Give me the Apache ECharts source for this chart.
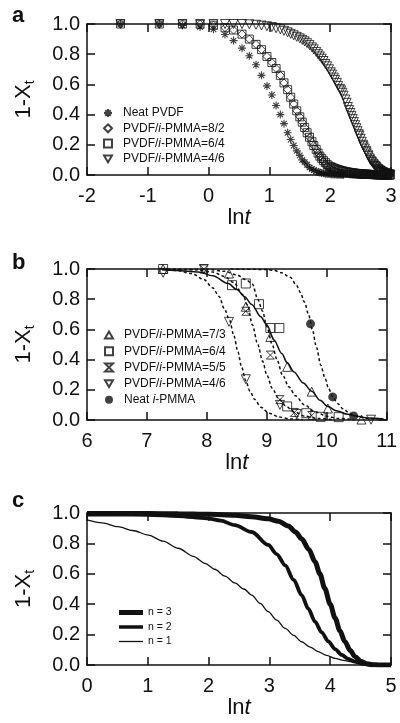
<!DOCTYPE html>
<html>
<head>
<meta charset="utf-8">
<script src="https://cdn.jsdelivr.net/npm/echarts@6/dist/echarts.min.js"></script>
<style>
  html, body { margin: 0; padding: 0; background: #fff; }
  #main { width: 400px; height: 723px; }
</style>
</head>
<body>
<div id="main"></div>
<script>
// ---- panel a: ln t grid shared by all four samples ----
var aLnT = [-1.45,-0.81,-0.43,-0.14,0.08,0.27,0.41,0.55,0.67,0.78,0.87,0.96,1.04,1.11,1.18,1.24,1.30,1.35,1.40,1.45,
  1.50,1.54,1.58,1.62,1.66,1.70,1.73,1.77,1.80,1.83,1.86,1.89,1.92,1.95,1.98,2.01,2.03,2.06,2.08,2.11,
  2.13,2.16,2.18,2.20,2.22,2.25,2.27,2.29,2.31,2.33,2.35,2.37,2.39,2.41,2.43,2.45,2.47,2.48,2.50,2.52,
  2.54,2.55,2.57,2.59,2.60,2.62,2.63,2.65,2.66,2.68,2.69,2.71,2.72,2.74,2.75,2.76,2.78,2.79,2.80,2.82,
  2.83,2.84,2.86,2.87,2.88,2.89,2.91,2.92,2.93,2.94,2.95,2.97,2.98,2.99];
var aNeatPVDF = [1.0,1.0,0.99,0.98,0.965,0.93,0.89,0.84,0.79,0.73,0.66,0.59,0.53,0.46,0.40,0.34,0.28,0.235,0.195,0.16,
  0.13,0.10,0.085,0.068,0.05,0.04,0.032,0.025,0.02,0.016,0.013,0.011,0.009,0.007,0.006,0.005,0.004,0.003,0.003,0.002,
  0.002,0.001,0.001,0.001,0.001];
var a82 = [1.0,1.0,1.0,0.998,0.993,0.975,0.96,0.933,0.90,0.865,0.83,0.785,0.745,0.705,0.66,0.61,0.565,0.515,0.47,0.425,
  0.385,0.35,0.315,0.28,0.25,0.22,0.195,0.17,0.145,0.125,0.105,0.09,0.07,0.056,0.047,0.04,0.035,0.03,0.026,0.022,
  0.019,0.016,0.014,0.012,0.011,0.009,0.008,0.007,0.006,0.005,0.005,0.004,0.004,0.003,0.003,0.003,0.002,0.002,0.002,0.002,
  0.002,0.001,0.001,0.001,0.001,0.001,0.001,0.001,0.001,0.001,0.001,0,0,0,0,0,0,0,0,0,
  0,0,0,0,0,0,0,0,0,0,0,0,0,0];
var a64 = [1.0,1.0,1.0,0.998,0.993,0.975,0.96,0.933,0.90,0.865,0.83,0.785,0.745,0.705,0.66,0.61,0.565,0.515,0.47,0.425,
  0.385,0.35,0.315,0.28,0.25,0.22,0.195,0.17,0.145,0.125,0.11,0.095,0.082,0.07,0.06,0.055,0.05,0.046,0.042,0.038,
  0.035,0.032,0.029,0.027,0.025,0.023,0.021,0.019,0.018,0.016,0.015,0.014,0.013,0.012,0.011,0.01,0.009,0.009,0.008,0.007,
  0.007,0.006,0.006,0.005,0.005,0.005,0.004,0.004,0.004,0.003,0.003,0.003,0.003,0.002,0.002,0.002,0.002,0.002,0.001,0.001,
  0.001,0.001,0.001,0.001,0.001,0,0,0,0,0,0,0,0,0];
var a46 = [1,1,1,1,1,1,1,1,0.998,0.995,0.99,0.985,0.98,0.972,0.965,0.955,0.945,0.935,0.925,0.915,
  0.905,0.895,0.885,0.873,0.86,0.845,0.832,0.815,0.80,0.785,0.77,0.755,0.735,0.72,0.70,0.68,0.665,0.645,0.63,0.61,
  0.59,0.57,0.56,0.545,0.525,0.50,0.478,0.45,0.43,0.41,0.39,0.37,0.35,0.33,0.31,0.29,0.27,0.26,0.24,0.22,
  0.20,0.19,0.175,0.16,0.15,0.135,0.125,0.11,0.10,0.09,0.085,0.075,0.068,0.06,0.055,0.05,0.042,0.038,0.034,0.03,
  0.026,0.023,0.02,0.017,0.015,0.013,0.011,0.009,0.008,0.006,0.005,0.004,0.003,0.002];

// ---- panel b: measured points ----
var b73 = [[7.27,1.0],[8.37,0.97],[8.65,0.75],[9.06,0.55],[9.34,0.352],[9.75,0.188],[10.02,0.076],[10.58,0.003]];
var b64 = [[7.27,1.0],[8.42,0.893],[8.65,0.904],[8.87,0.767],[9.06,0.609],[9.21,0.609],[9.34,0.09],[9.66,0.045],[9.9,0.021],[10.2,0.019]];
var b55 = [[7.95,1.0],[8.65,0.72],[9.06,0.43],[9.22,0.135],[9.46,0.05],[9.75,0.03]];
var b46 = [[7.27,0.975],[7.95,1.0],[8.37,0.65],[8.65,0.27],[9.22,0.1],[9.5,0.04],[10.74,0.002]];
var bNeatPMMA = [[9.73,0.637],[10.1,0.153],[10.45,0.027]];
// ---- panel b: fitted curves ----
var bFit73 = [[7.25,0.995],[7.5,0.99],[7.86,0.98],[8.1,0.955],[8.35,0.905],[8.5,0.865],[8.63,0.817],[8.75,0.765],[8.9,0.684],
  [9.0,0.63],[9.12,0.53],[9.25,0.44],[9.34,0.38],[9.45,0.32],[9.61,0.245],[9.75,0.19],[9.89,0.13],[10.02,0.09],[10.16,0.062],
  [10.35,0.038],[10.5,0.025],[10.7,0.013],[10.95,0.006]];
var bFit46 = [[7.25,0.998],[7.5,0.99],[7.75,0.97],[7.95,0.93],[8.1,0.875],[8.2,0.82],[8.3,0.73],[8.38,0.66],[8.45,0.56],
  [8.52,0.45],[8.58,0.35],[8.65,0.26],[8.72,0.19],[8.8,0.135],[8.9,0.085],[9.04,0.045],[9.2,0.02],[9.4,0.007],[9.6,0.002]];
var bFit55 = [[7.25,1.0],[7.8,0.995],[8.1,0.98],[8.3,0.95],[8.45,0.91],[8.6,0.83],[8.68,0.76],[8.76,0.63],[8.85,0.50],
  [8.93,0.39],[9.0,0.30],[9.09,0.21],[9.2,0.14],[9.31,0.095],[9.45,0.055],[9.64,0.025],[9.85,0.01],[10.1,0.003]];
var bFit64 = [[7.25,1.0],[8.0,0.998],[8.3,0.985],[8.5,0.96],[8.65,0.93],[8.76,0.9],[8.85,0.80],[8.93,0.72],[9.0,0.62],
  [9.09,0.50],[9.17,0.40],[9.26,0.30],[9.37,0.22],[9.48,0.16],[9.63,0.10],[9.8,0.055],[10.0,0.025],[10.2,0.01],[10.45,0.003]];
var bFitNeat = [[8.4,1.0],[9.0,0.997],[9.12,0.99],[9.25,0.975],[9.39,0.945],[9.5,0.89],[9.56,0.845],[9.63,0.78],[9.7,0.695],
  [9.76,0.60],[9.83,0.48],[9.9,0.365],[9.97,0.28],[10.03,0.21],[10.1,0.155],[10.18,0.11],[10.27,0.075],[10.38,0.045],
  [10.5,0.025],[10.65,0.012],[10.85,0.004]];

// ---- panel c: model curves ----
var cN3 = [[0,0.997],[0.5,0.997],[1,0.996],[1.5,0.995],[2,0.991],[2.43,0.985],[2.7,0.975],[2.98,0.962],[3.15,0.945],
  [3.31,0.915],[3.43,0.875],[3.53,0.83],[3.65,0.76],[3.75,0.68],[3.83,0.60],[3.91,0.505],[4.0,0.40],[4.08,0.31],
  [4.16,0.225],[4.24,0.155],[4.33,0.095],[4.41,0.055],[4.5,0.025],[4.6,0.008],[4.7,0.002],[4.8,0],[5,0]];
var cN2 = [[0,0.99],[0.5,0.99],[1,0.988],[1.5,0.98],[1.97,0.965],[2.2,0.95],[2.43,0.92],[2.71,0.875],[2.98,0.79],
  [3.12,0.73],[3.26,0.655],[3.4,0.56],[3.53,0.46],[3.64,0.37],[3.75,0.285],[3.86,0.215],[3.97,0.155],[4.08,0.105],
  [4.19,0.066],[4.3,0.04],[4.41,0.022],[4.52,0.01],[4.63,0.003],[4.75,0],[5,0]];
var cN1 = [[0,0.954],[0.25,0.935],[0.51,0.91],[0.75,0.885],[1.01,0.855],[1.25,0.815],[1.5,0.768],[1.75,0.715],[1.94,0.669],
  [2.1,0.63],[2.27,0.585],[2.43,0.54],[2.58,0.50],[2.71,0.46],[2.85,0.405],[2.98,0.351],[3.12,0.295],[3.26,0.241],
  [3.4,0.195],[3.53,0.153],[3.67,0.118],[3.8,0.088],[3.94,0.063],[4.08,0.044],[4.22,0.03],[4.35,0.02],[4.48,0.01],
  [4.57,0.005],[4.7,0.001],[4.85,0]];

var FONT = 'Liberation Sans, Arial, Helvetica, sans-serif';
var INK = '#111';

function pairs(xs, ys) {
  return ys.map(function (y, i) { return [xs[i], y]; });
}

function xAxisOf(g, min, max, top) {
  return {
    type: 'value', gridIndex: g, min: min, max: max, interval: 1,
    position: top ? 'top' : 'bottom',
    axisLine: { show: true, onZero: false, lineStyle: { color: INK, width: 1.5 } },
    axisTick: { inside: true, length: 8, lineStyle: { color: INK, width: 1.5 } },
    axisLabel: { show: !top, fontSize: 20, color: INK, fontFamily: FONT, margin: 11 },
    splitLine: { show: false },
    name: top ? '' : '{r|ln}{i|t}',
    nameLocation: 'middle', nameGap: 31,
    nameTextStyle: { rich: {
      r: { fontSize: 22, fontFamily: FONT, color: INK },
      i: { fontSize: 22, fontFamily: FONT, fontStyle: 'italic', color: INK }
    } }
  };
}

function yAxisOf(g, right) {
  return {
    type: 'value', gridIndex: g, min: 0, max: 1, interval: 0.2,
    position: right ? 'right' : 'left',
    axisLine: { show: true, onZero: false, lineStyle: { color: INK, width: 1.5 } },
    axisTick: { inside: true, length: 8, lineStyle: { color: INK, width: 1.5 } },
    axisLabel: { show: !right, fontSize: 20, color: INK, fontFamily: FONT, margin: 7,
      formatter: function (v) { return v.toFixed(1); } },
    splitLine: { show: false },
    name: right ? '' : '{m|1-X}{s|t}',
    nameLocation: 'middle', nameGap: 50, nameRotate: 90,
    nameTextStyle: { rich: {
      m: { fontSize: 22, fontFamily: FONT, color: INK, lineHeight: 26 },
      s: { fontSize: 14, fontFamily: FONT, color: INK, lineHeight: 26, verticalAlign: 'bottom', padding: [8, 0, 0, 0] }
    } }
  };
}

function legendText(name) {
  var t = name.trim();
  var k = t.indexOf('i-');
  if (k < 0) return '{n|' + t + '}';
  return '{n|' + t.slice(0, k) + '}{i|i}{n|' + t.slice(k + 1) + '}';
}

function legendOf(names, left, top, size, gap, iw, ih, pad) {
  return {
    data: names, orient: 'vertical', left: left, top: top,
    itemWidth: iw, itemHeight: ih, itemGap: gap, selectedMode: false,
    formatter: legendText,
    textStyle: { padding: [0, 0, 0, pad], rich: {
      n: { fontSize: size, fontFamily: FONT, color: INK, lineHeight: size },
      i: { fontSize: size, fontFamily: FONT, fontStyle: 'italic', color: INK, lineHeight: size }
    } }
  };
}

// bar icons for the line legend: the leading moves fix the 24x6 box, the bar sets the thickness
function barIcon(t) {
  var a = (3 - t / 2).toFixed(2), b = (3 + t / 2).toFixed(2);
  return 'path://M0,0L0,0M24,6L24,6M0,' + a + 'L24,' + a + 'L24,' + b + 'L0,' + b + 'Z';
}

var open = { color: 'rgba(255,255,255,0)', borderColor: INK, borderWidth: 1 };
var STAR = 'path://M5,0L5,10M0,5L10,5M1.5,1.5L8.5,8.5M1.5,8.5L8.5,1.5';
var DOWN = 'path://M0,0L10,0L5,8.6Z';
var UP = 'path://M5,0L10,8.6L0,8.6Z';
var HOUR = 'path://M0,0L10,0L0,10L10,10Z';

function scat(name, data, g, symbol, size, style) {
  return { type: 'scatter', name: name, data: data, xAxisIndex: g, yAxisIndex: g,
    symbol: symbol, symbolSize: size, itemStyle: style || open, z: 3 };
}

function curve(data, g, width, dashed, name) {
  return { type: 'line', name: name, data: data, xAxisIndex: g, yAxisIndex: g,
    showSymbol: false, symbol: 'none', smooth: 0.3, smoothMonotone: 'x', silent: true,
    itemStyle: { color: INK },
    lineStyle: { color: INK, width: width, type: dashed ? [3, 2.5] : 'solid' } };
}

var chart = echarts.init(document.getElementById('main'), null, { renderer: 'canvas' });

chart.setOption({
  backgroundColor: '#fff',
  animation: false,
  grid: [
    { left: 87, top: 24, width: 304, height: 151 },
    { left: 87, top: 269, width: 304, height: 151 },
    { left: 87, top: 513, width: 304, height: 152 }
  ],
  xAxis: [
    xAxisOf(0, -2, 3, false), xAxisOf(1, 6, 11, false), xAxisOf(2, 0, 5, false),
    xAxisOf(0, -2, 3, true), xAxisOf(1, 6, 11, true), xAxisOf(2, 0, 5, true)
  ],
  yAxis: [
    yAxisOf(0, false), yAxisOf(1, false), yAxisOf(2, false),
    yAxisOf(0, true), yAxisOf(1, true), yAxisOf(2, true)
  ],
  legend: [
    legendOf(['Neat PVDF', 'PVDF/i-PMMA=8/2', 'PVDF/i-PMMA=6/4', 'PVDF/i-PMMA=4/6'], 98, 102, 12, 3.3, 8, 8, 6),
    legendOf(['PVDF/i-PMMA=7/3 ', 'PVDF/i-PMMA=6/4 ', 'PVDF/i-PMMA=5/5 ', 'PVDF/i-PMMA=4/6 ', 'Neat i-PMMA '], 99, 324, 12, 4.2, 8, 8, 6),
    legendOf([
      { name: 'n = 3', icon: barIcon(5) },
      { name: 'n = 2', icon: barIcon(3.5) },
      { name: 'n = 1', icon: barIcon(1.3) }
    ], 114, 602, 10.5, 3.5, 24, 6, 0)
  ],
  graphic: [
    { type: 'text', left: 12, top: 5, style: { text: 'a', font: 'bold 22px ' + FONT, fill: INK } },
    { type: 'text', left: 12, top: 252, style: { text: 'b', font: 'bold 22px ' + FONT, fill: INK } },
    { type: 'text', left: 12, top: 490, style: { text: 'c', font: 'bold 22px ' + FONT, fill: INK } }
  ],
  series: [
    scat('Neat PVDF', pairs(aLnT, aNeatPVDF), 0, STAR, 8, { color: 'rgba(0,0,0,0)', borderColor: INK, borderWidth: 1.1 }),
    scat('PVDF/i-PMMA=8/2', pairs(aLnT, a82), 0, 'diamond', 8),
    scat('PVDF/i-PMMA=6/4', pairs(aLnT, a64), 0, 'rect', 8),
    scat('PVDF/i-PMMA=4/6', pairs(aLnT, a46), 0, DOWN, 9),

    curve(bFit46, 1, 1.5, true), curve(bFit55, 1, 1.5, true), curve(bFit64, 1, 1.5, true),
    curve(bFitNeat, 1, 1.5, true), curve(bFit73, 1, 1.5, false),
    scat('PVDF/i-PMMA=7/3 ', b73, 1, UP, 9),
    scat('PVDF/i-PMMA=6/4 ', b64, 1, 'rect', 9),
    scat('PVDF/i-PMMA=5/5 ', b55, 1, HOUR, 8),
    scat('PVDF/i-PMMA=4/6 ', b46, 1, DOWN, 9),
    scat('Neat i-PMMA ', bNeatPMMA, 1, 'circle', 9, { color: INK }),

    curve(cN3, 2, 5, false, 'n = 3'),
    curve(cN2, 2, 3.8, false, 'n = 2'),
    curve(cN1, 2, 1.3, false, 'n = 1')
  ]
});
</script>
</body>
</html>
